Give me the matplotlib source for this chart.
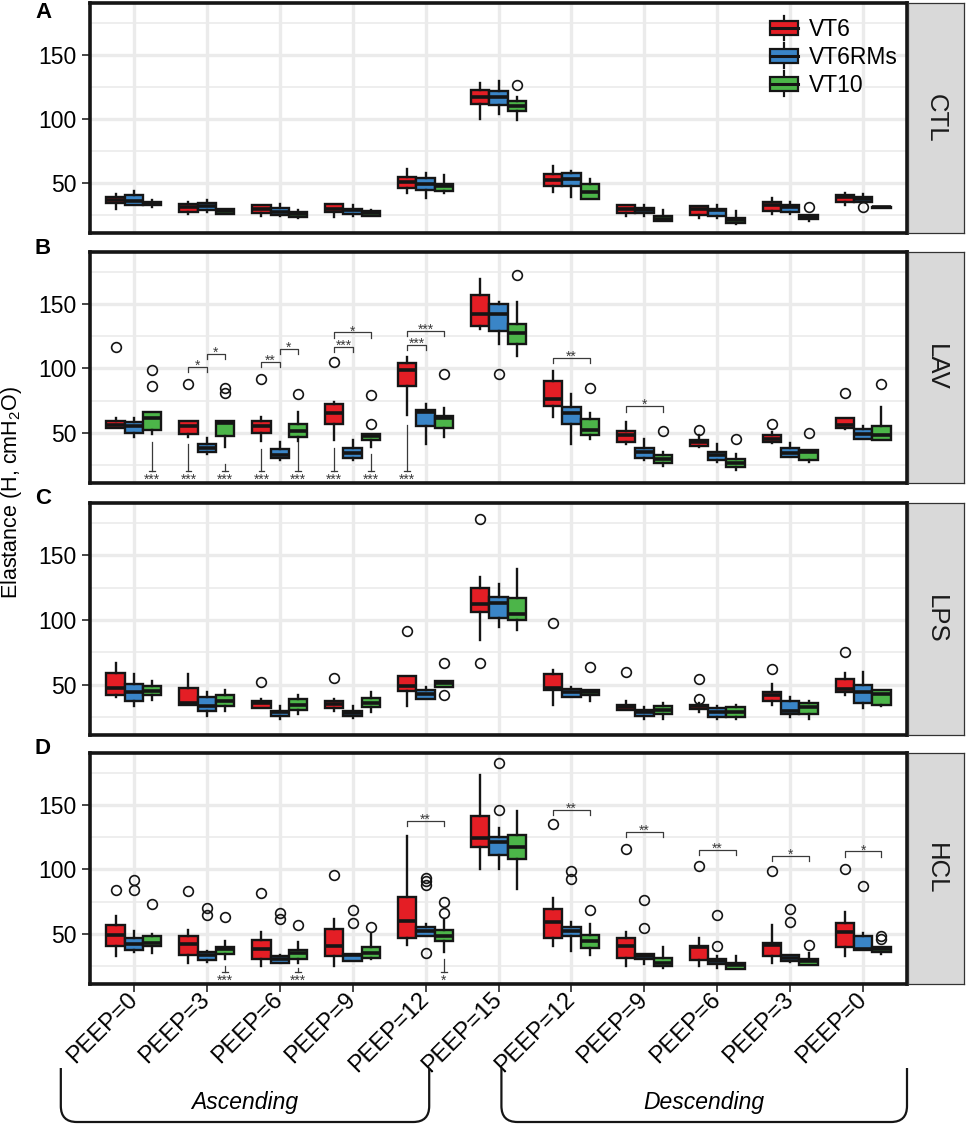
import numpy as np
import matplotlib.pyplot as plt
from matplotlib.patches import Rectangle, Patch, PathPatch
from matplotlib.lines import Line2D
from matplotlib.path import Path
from matplotlib.legend_handler import HandlerBase
from matplotlib.transforms import IdentityTransform

plt.rcParams['font.family'] = ['Liberation Sans', 'DejaVu Sans']
plt.rcParams['mathtext.fontset'] = 'custom'
plt.rcParams['mathtext.rm'] = 'Liberation Sans'
plt.rcParams['mathtext.it'] = 'Liberation Sans:italic'

# categorias
peep_labels = ['PEEP=0', 'PEEP=3', 'PEEP=6', 'PEEP=9', 'PEEP=12', 'PEEP=15',
               'PEEP=12', 'PEEP=9', 'PEEP=6', 'PEEP=3', 'PEEP=0']
groups = ['VT6', 'VT6RMs', 'VT10']
colors = ['#E41E25', '#3A85C7', '#4CB549']
panel_names = ['CTL', 'LAV', 'LPS', 'HCL']
panel_letters = ['A', 'B', 'C', 'D']

# (whislo, q1, med, q3, whishi) para cada PEEP
CTL_VT6 = [(30, 34, 37, 39, 41), (25.5, 27, 31.5, 33.5, 35), (24, 26.5, 30, 33, 33),
           (23.5, 27, 30, 33.5, 33.5), (42, 46, 51, 55, 61), (100, 112, 117, 123, 128),
           (43, 48, 52, 57, 63), (24, 26.5, 29.5, 33, 33), (23, 25, 29.5, 32, 32),
           (26, 28, 33, 35, 38), (33, 35, 39, 40.5, 42)]
CTL_VT6RMs = [(32.5, 33, 36, 40.5, 44), (27, 28.5, 32, 34, 36.5), (24, 25, 27.5, 30.5, 33.5),
              (24.5, 25.5, 28.5, 30, 33), (38, 44.5, 49.5, 53.5, 58), (104, 111, 117, 122, 130),
              (39, 47.5, 53, 57.5, 59.5), (24, 26.5, 29, 30.5, 32.5), (23, 24, 28.5, 30, 32.5),
              (26, 27, 31.5, 33, 35.5), (35, 35.5, 37.5, 39, 41.5)]
CTL_VT10 = [(31, 32.5, 34, 35.5, 36.5), (25.5, 26, 28, 29.5, 29.5), (23, 23.5, 25.5, 27, 29),
            (24, 24.5, 26.5, 28, 29), (42, 44, 47.5, 49.5, 56), (99, 106.5, 110, 114, 117),
            (37.5, 37.5, 43, 49, 53), (20, 20.5, 22, 24, 29), (18, 18.5, 21, 22.5, 28),
            (20, 21.5, 23.5, 25, 25), (30.5, 30.8, 31, 31.3, 31.5)]
CTL_VT6_out = [[], [], [], [], [], [], [], [], [], [], []]
CTL_VT6RMs_out = [[], [], [], [], [], [], [], [], [], [], [31.5]]
CTL_VT10_out = [[], [], [], [], [], [126.5], [], [], [], [31.5], []]

LAV_VT6 = [(53.5, 54, 56, 59.5, 61.5), (47, 49, 55.5, 59, 59), (43.5, 50, 55.5, 59.5, 62),
           (44, 56.5, 65, 72.5, 74), (63.5, 86, 99, 104, 109), (131, 133, 142, 157, 169.5),
           (62, 70.5, 76, 90.5, 98), (41, 42.5, 48, 51.5, 58.5), (39, 39.5, 42.5, 44.5, 48),
           (42, 42.5, 45.5, 48, 50.5), (53, 53.5, 56, 61.5, 61.5)]
LAV_VT6RMs = [(46.5, 49.5, 55, 58.5, 61.5), (33.5, 35, 38.5, 41.5, 46), (28.5, 30, 33, 37.5, 42.5),
              (28.5, 30.5, 34, 38, 44), (41, 55, 66, 67.5, 72), (119, 129.5, 142, 150, 152),
              (41.5, 57, 65.5, 70, 80.5), (28.5, 30.5, 35, 38.5, 45), (27, 29, 33, 35, 41),
              (31.5, 31.5, 34, 38, 42), (45.5, 45.5, 49, 53, 55)]
LAV_VT10 = [(49, 52, 61.5, 66, 66), (39, 47.5, 57.5, 59, 59), (43.5, 46.5, 51.5, 56.5, 66),
            (39, 44, 47.5, 49, 49), (46.5, 54, 61.5, 63, 69), (109.5, 119, 127.5, 134.5, 151.5),
            (45.5, 48.5, 52, 61, 65.5), (24, 26.5, 29.5, 32.5, 35), (21, 23, 26.5, 29.5, 33.5),
            (27, 29, 35, 36.5, 36.5), (44, 44, 48, 55, 70)]
LAV_VT6_out = [[116.5], [88], [92], [105], [], [], [], [], [52], [56.5], [81]]
LAV_VT6RMs_out = [[], [], [], [], [], [96], [], [], [], [], []]
LAV_VT10_out = [[98.5, 86], [84.5, 81], [80], [79.5, 56.5], [96], [173], [84.5],
                [51.5], [45], [50], [88]]

LPS_VT6 = [(40, 41.5, 47.5, 59, 66.5), (34.5, 34.5, 36, 47.5, 58.5), (31.5, 31.5, 35.5, 37, 39),
           (29.5, 32, 35, 37.5, 39), (33.5, 45, 48.5, 56.5, 56.5), (84.5, 106.5, 112.5, 124.5, 133.5),
           (34.5, 45.5, 47.5, 58, 61.5), (30, 30, 32.5, 34.5, 37.5), (29, 31, 33, 34.5, 35.5),
           (34.5, 37.5, 41.5, 44, 50.5), (41.5, 44.5, 46.5, 54.5, 59)]
LPS_VT6RMs = [(33.5, 37.5, 44.5, 50.5, 58), (26, 29.5, 33.5, 40, 44), (23, 25.5, 28.5, 29.5, 33.5),
              (24, 26, 28, 29.5, 33), (39, 39, 42.5, 46, 48), (94.5, 101.5, 113.5, 117.5, 128),
              (40, 40, 44, 46.5, 48), (23, 26, 28.5, 30.5, 32.5), (23, 25, 29, 32, 33.5),
              (24.5, 27.5, 29.5, 37.5, 40), (32, 36, 44, 50, 59.5)]
LPS_VT10 = [(38, 41.5, 45, 49, 53), (29.5, 33.5, 37.5, 41.5, 45.5), (27, 30, 34.5, 39, 42),
            (28.5, 32.5, 36, 39.5, 44), (48, 48, 51.5, 52.5, 53), (92.5, 100, 105, 117, 139.5),
            (37.5, 41.5, 44, 46, 46), (23, 27, 30, 33.5, 36), (23, 25, 29, 32.5, 34),
            (23, 27, 32.5, 35.5, 37.5), (33, 34.5, 43, 46, 46)]
LPS_VT6_out = [[], [], [52], [55], [91.5], [178, 67], [97.5], [59.5], [54.5, 38.5], [62], [75.5]]
LPS_VT6RMs_out = [[], [], [], [], [], [], [], [], [], [], []]
LPS_VT10_out = [[], [], [], [], [66.5, 41.5], [], [63.5], [], [], [], []]

HCL_VT6 = [(33, 40.5, 49, 56.5, 63.5), (27, 33.5, 42, 48.5, 53), (25, 30.5, 38.5, 45.5, 51),
           (25, 32.5, 40.5, 53.5, 61.5), (41, 46.5, 60, 78.5, 126), (100, 117.5, 124.5, 141.5, 173.5),
           (40.5, 47, 59.5, 69, 77.5), (25, 31.5, 40.5, 47, 51), (25, 29.5, 39.5, 40.5, 46.5),
           (27, 33, 41, 43, 57), (33, 40, 51, 58.5, 67)]
HCL_VT6RMs = [(35.5, 37, 42, 47, 52.5), (28, 29.5, 33.5, 35.5, 36.5), (27, 27.5, 30.5, 32.5, 33.5),
              (29, 29, 33.5, 34, 34), (48, 48, 52.5, 55.5, 57.5), (100, 111, 121, 125.5, 132.5),
              (36.5, 48, 52.5, 55.5, 59), (26.5, 30, 33, 34, 34), (23.5, 26.5, 28.5, 30, 32.5),
              (28, 29, 31.5, 33.5, 33.5), (37, 37, 38.5, 48.5, 50.5)]
HCL_VT10 = [(35, 40.5, 43, 48, 49.5), (30, 34, 38, 40, 44.5), (27.5, 30.5, 35, 37, 43.5),
            (30, 31.5, 35, 40, 49.5), (36, 44.5, 48.5, 53, 61), (84.5, 108.5, 117.5, 127, 145.5),
            (33.5, 39, 44.5, 49, 57.5), (23.5, 25, 27.5, 31.5, 39.5), (22.5, 22.5, 25.5, 27.5, 32.5),
            (25.5, 25.5, 29, 30.5, 35), (34, 35.5, 38, 39.5, 39.5)]
HCL_VT6_out = [[84], [83], [82], [96], [], [], [135], [116], [102.5], [98.5], [100.5]]
HCL_VT6RMs_out = [[91.5, 84], [70, 64.5], [66, 61.5], [68.5, 58.5], [93, 91, 88, 35],
                  [182.5, 146.5], [98.5, 92.5], [76, 54.5], [64.5, 40.5], [69.5, 59], [87]]
HCL_VT10_out = [[73], [63], [57], [55], [75, 66], [], [68.5], [], [], [41.5], [48.5, 46]]

# corchetes de significancia: (PEEP, grupo1, grupo2, altura, etiqueta)
CTL_brackets = []
LAV_brackets = [(2, 0, 1, 101.5, '*'), (2, 1, 2, 111.5, '*'), (3, 0, 1, 105, '**'),
                (3, 1, 2, 115.5, '*'), (4, 0, 1, 116.5, '***'), (4, 0, 2, 128, '*'),
                (5, 0, 1, 118, '***'), (5, 0, 2, 129.5, '***'), (7, 0, 2, 108.5, '**'),
                (8, 0, 2, 70.5, '*')]
LPS_brackets = []
HCL_brackets = [(5, 0, 2, 137.5, '**'), (7, 0, 2, 146.5, '**'), (8, 0, 2, 129.5, '**'),
                (9, 0, 2, 115, '**'), (10, 0, 2, 110.5, '*'), (11, 0, 2, 114, '*')]

# marcas inferiores (vs CTL): (PEEP, grupo, inicio de la linea, etiqueta)
CTL_low = []
LAV_low = [(1, 2, 42.5, '***'), (2, 0, 41, '***'), (2, 2, 26, '***'), (3, 0, 37.5, '***'),
           (3, 2, 42.5, '***'), (4, 0, 38.5, '***'), (4, 2, 33.5, '***'), (5, 0, 56, '***')]
LPS_low = []
HCL_low = [(2, 2, 25, '***'), (3, 2, 23.5, '***'), (5, 2, 30.5, '*')]

panels = [
    ([CTL_VT6, CTL_VT6RMs, CTL_VT10], [CTL_VT6_out, CTL_VT6RMs_out, CTL_VT10_out], CTL_brackets, CTL_low),
    ([LAV_VT6, LAV_VT6RMs, LAV_VT10], [LAV_VT6_out, LAV_VT6RMs_out, LAV_VT10_out], LAV_brackets, LAV_low),
    ([LPS_VT6, LPS_VT6RMs, LPS_VT10], [LPS_VT6_out, LPS_VT6RMs_out, LPS_VT10_out], LPS_brackets, LPS_low),
    ([HCL_VT6, HCL_VT6RMs, HCL_VT10], [HCL_VT6_out, HCL_VT6RMs_out, HCL_VT10_out], HCL_brackets, HCL_low),
]

ink = '#151515'
star_col = '#3A3A3A'
grid_col = '#EBEBEB'
W, H = 969, 1126
panel_px = [(3, 233), (252, 483), (503, 735), (753, 984)]
letter_y = [12, 248, 499, 749]
offs = [-0.25, 0.0, 0.25]
pos = np.arange(1, 12)


class BoxKey(HandlerBase):
    def create_artists(self, legend, orig_handle, xdescent, ydescent, width, height, fontsize, trans):
        x0 = -xdescent
        y0 = -ydescent
        cx = x0 + width / 2
        bh = height * 0.55
        whisk = Line2D([cx, cx], [y0, y0 + height], color=ink, lw=1.6, transform=trans)
        rect = Rectangle((x0, y0 + (height - bh) / 2), width, bh, facecolor=orig_handle.get_facecolor(),
                         edgecolor=ink, lw=1.6, transform=trans)
        med = Line2D([x0, x0 + width], [y0 + height / 2] * 2, color=ink, lw=2.2, transform=trans)
        return [whisk, rect, med]


fig = plt.figure(figsize=(W / 100, H / 100), dpi=100)
axes = []
for i, (vals, outs, brackets, low) in enumerate(panels):
    top, bot = panel_px[i]
    ax = fig.add_axes([90 / W, 1 - bot / H, (907 - 90) / W, (bot - top) / H])
    axes.append(ax)
    for g in range(3):
        stats = [dict(whislo=s[0], q1=s[1], med=s[2], q3=s[3], whishi=s[4], fliers=f)
                 for s, f in zip(vals[g], outs[g])]
        ax.bxp(stats, positions=pos + offs[g], widths=0.25, patch_artist=True, showcaps=False,
               manage_ticks=False,
               boxprops=dict(facecolor=colors[g], edgecolor=ink, linewidth=1.7),
               medianprops=dict(color=ink, linewidth=2.6, solid_capstyle='butt'),
               whiskerprops=dict(color=ink, linewidth=1.7),
               flierprops=dict(marker='o', markerfacecolor='none', markeredgecolor=ink,
                               markersize=7, markeredgewidth=1.2))

    for k, g1, g2, y, lab in brackets:
        x1 = k + offs[g1]
        x2 = k + offs[g2]
        ax.plot([x1, x1, x2, x2], [y - 4, y, y, y - 4], color=star_col, lw=0.9)
        ax.text((x1 + x2) / 2, y - 2.2, lab, ha='center', va='baseline', fontsize=10, color=star_col)
    for k, g, ytop, lab in low:
        x = k + offs[g]
        ax.plot([x, x], [ytop, 20.5], color=star_col, lw=0.9)
        ax.plot([x - 0.04, x + 0.04], [20.5, 20.5], color=star_col, lw=0.9)
        ax.text(x, 10.3, lab, ha='center', va='baseline', fontsize=10, color=star_col)

    ax.set_xlim(0.4, 11.6)
    ax.set_ylim(10.9, 190.6)
    ax.set_xticks(pos)
    ax.set_yticks([50, 100, 150])
    ax.set_yticks([25, 75, 125, 175], minor=True)
    ax.grid(which='major', color=grid_col, lw=2.4)
    ax.grid(which='minor', axis='y', color=grid_col, lw=1.2)
    ax.set_axisbelow(True)
    for sp in ax.spines.values():
        sp.set_linewidth(2.6)
        sp.set_color(ink)
    ax.tick_params(axis='y', which='major', length=6, width=1.1, color=ink, labelsize=16.5, pad=4)
    ax.tick_params(axis='y', which='minor', length=0)
    if i < 3:
        ax.tick_params(axis='x', length=0, labelbottom=False)
    else:
        ax.tick_params(axis='x', length=6, width=1.1, color=ink, pad=3)
        ax.set_xticklabels(peep_labels, rotation=45, ha='right', va='center',
                           rotation_mode='anchor', fontsize=17)

    # tira lateral
    sax = fig.add_axes([908 / W, 1 - bot / H, 56 / W, (bot - top) / H])
    sax.set_facecolor('#D9D9D9')
    sax.set_xticks([])
    sax.set_yticks([])
    for sp in sax.spines.values():
        sp.set_linewidth(0.9)
        sp.set_color('#333333')
    sax.text(0.5, 0.5, panel_names[i], rotation=270, ha='center', va='center',
             fontsize=18.5, color='#1A1A1A', transform=sax.transAxes)

    fig.text(43 / W, 1 - letter_y[i] / H, panel_letters[i], fontweight='bold', fontsize=16,
             ha='center', va='center')

handles = [Patch(facecolor=c) for c in colors]
axes[0].legend(handles, groups, handler_map={Patch: BoxKey()}, loc='upper left',
               bbox_to_anchor=((770 - 90) / 817, 1 - 12.5 / 230), frameon=False, borderpad=0,
               borderaxespad=0, fontsize=16.5, handlelength=1.2, handleheight=1.3,
               labelspacing=0.12, handletextpad=0.5)

fig.text(12 / W, 1 - 493 / H, 'Elastance (H, cmH$_2$O)', rotation=90, ha='center', va='center',
         fontsize=15.5)

# llaves Ascending / Descending
axD = axes[3]
ytop = H - 1068
ybot = H - 1122
r = 16
for xa, xb, name in [(0.0, 5.05, 'Ascending'), (6.04, 11.6, 'Descending')]:
    x0 = axD.transData.transform((xa, 0))[0]
    x1 = axD.transData.transform((xb, 0))[0]
    verts = [(x0, ytop), (x0, ybot + r), (x0, ybot), (x0 + r, ybot), (x1 - r, ybot),
             (x1, ybot), (x1, ybot + r), (x1, ytop)]
    codes = [Path.MOVETO, Path.LINETO, Path.CURVE3, Path.CURVE3, Path.LINETO,
             Path.CURVE3, Path.CURVE3, Path.LINETO]
    fig.add_artist(PathPatch(Path(verts, codes), fill=False, lw=1.6, ec=ink,
                             transform=IdentityTransform()))
    fig.text((x0 + x1) / 2 / W, 1 - 1103 / H, name, style='italic', fontsize=16.5,
             ha='center', va='center')

fig.savefig('out.png', dpi=100)
